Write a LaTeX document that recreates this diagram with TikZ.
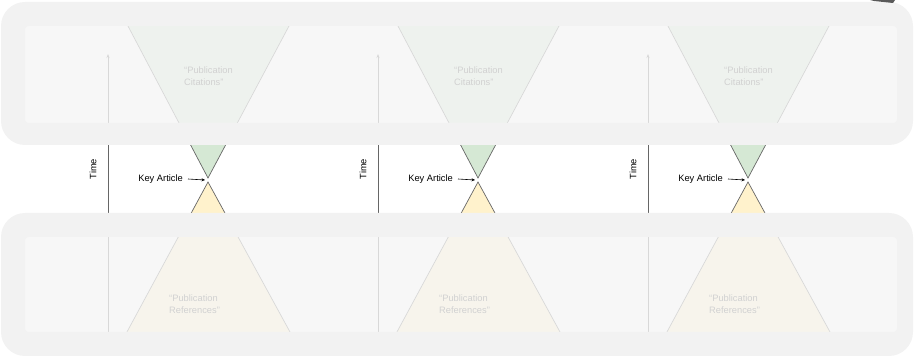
\documentclass[tikz,border=0pt]{standalone}
\usepackage{fontspec}
\setmainfont{Liberation Sans}
\usetikzlibrary{positioning, arrows.meta}

\definecolor{citefill}{HTML}{D5E8D4}
\definecolor{reffill}{HTML}{FFF2CC}
\definecolor{bandgray}{HTML}{F2F2F2}
\definecolor{windowgray}{HTML}{F5F5F5}

\begin{document}
\begin{tikzpicture}[
    x=1pt, y=-1pt,
    >=Stealth,
    every node/.style={font=\fontsize{9.3}{11.6}\selectfont},
    cone/.style={draw=black!60, line width=0.7pt, line join=miter},
    cite_cone/.style={cone, fill=citefill},
    ref_cone/.style={cone, fill=reffill},
    axis_line/.style={-{Stealth[length=4pt, width=3pt]}, draw=black!60, line width=0.8pt},
    pointer/.style={-{Stealth[length=3.5pt, width=3pt]}, line width=0.6pt},
    key_lbl/.style={anchor=east, inner sep=1pt},
    faded_txt/.style={anchor=west, align=left, text=black!75, inner sep=0pt},
    band/.style={fill=bandgray},
    window/.style={fill=windowgray, fill opacity=0.8},
]
    \useasboundingbox (0,0) rectangle (914,358);

    % --- three columns: time axis, cones and key article ---
    \foreach \col/\off in {1/0, 2/270, 3/540} {
        % time axis
        \coordinate (tb\col) at (108+\off, 332);
        \coordinate (tt\col) at (108+\off, 54);
        \draw[axis_line] (tb\col) -- (tt\col);
        \node[rotate=90] (time\col) at (93+\off, 169) {Time};

        % citations cone (above) and references cone (below)
        \draw[cite_cone] (124.8+\off, 20) -- (292.2+\off, 20) -- (208+\off, 178) -- cycle;
        \draw[ref_cone] (208+\off, 182) -- (293.3+\off, 338) -- (123.7+\off, 338) -- cycle;

        \node[faded_txt] (cite\col) at (184+\off, 76) {“Publication\\Citations”};
        \node[faded_txt] (refs\col) at (169+\off, 304) {“Publication\\References”};

        % key article pointer
        \coordinate (apex\col) at (205+\off, 180);
        \node[key_lbl] (key\col) at (184+\off, 179) {Key Article};
        \draw[pointer] ([xshift=4pt]key\col.east) -- (apex\col);
    }

    % --- faded overlays ---
    \fill[band, even odd rule]
        [rounded corners=24pt] (1, 2) rectangle (913, 145)
        [rounded corners=4pt] (25, 26) rectangle (897, 123);
    \fill[window, rounded corners=4pt] (25, 26) rectangle (897, 123);

    \fill[band, even odd rule]
        [rounded corners=24pt] (1, 213) rectangle (913, 356)
        [rounded corners=4pt] (25, 237) rectangle (897, 332);
    \fill[window, rounded corners=4pt] (25, 237) rectangle (897, 332);

    % dark edge at the top right
    \fill[black!65] (870, 0) -- (895, 0) -- (893, 3) -- (874, 1) -- cycle;

\end{tikzpicture}
\end{document}
